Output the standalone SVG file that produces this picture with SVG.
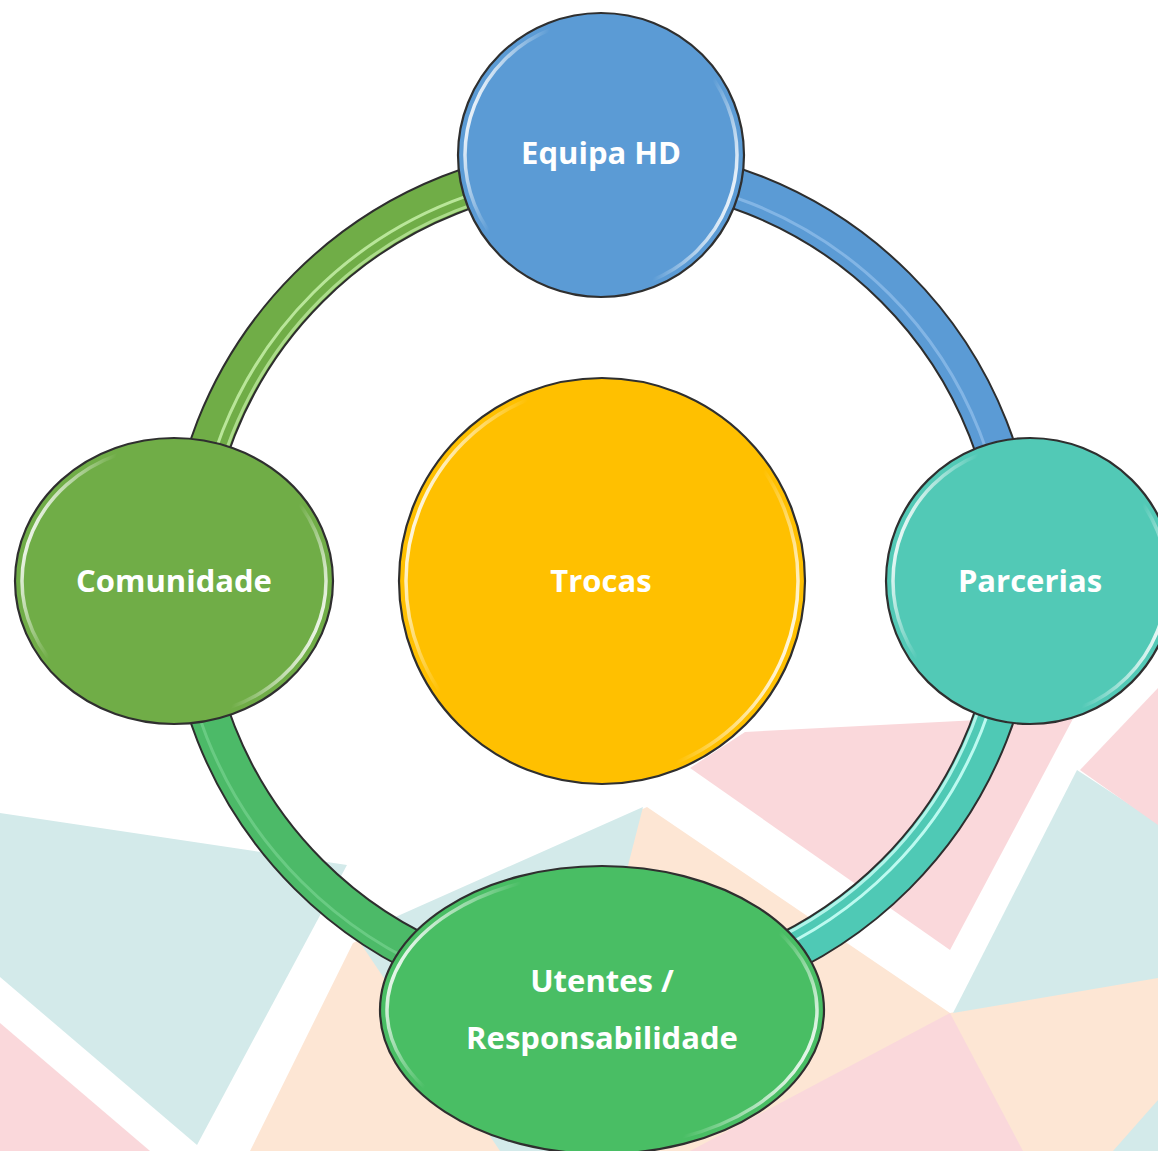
<svg xmlns="http://www.w3.org/2000/svg" width="1158" height="1151" viewBox="0 0 1158 1151">
<style>
.bl{fill:#d3eaea}.pk{fill:#fad8db}.pc{fill:#fde6d4}
.outline{fill:none;stroke:#2e2e2e;stroke-width:42}
.band{fill:none;stroke-width:38}
.stripe{fill:none;stroke-width:3}
.node-edge{stroke:#2f2f2f;stroke-width:2.2}
.rim{fill:none;stroke:url(#rimg);stroke-width:3.5}
.lbl{font-family:"Open Sans","DejaVu Sans",sans-serif;font-weight:bold;font-size:31px;fill:#ffffff;text-anchor:middle}
</style>
<defs>
<linearGradient id="rimg" x1="0" y1="0.35" x2="1" y2="0.65">
<stop offset="0" stop-color="#ffffff" stop-opacity="0.95"/>
<stop offset="0.08" stop-color="#ffffff" stop-opacity="0.55"/>
<stop offset="0.2" stop-color="#ffffff" stop-opacity="0"/>
<stop offset="0.8" stop-color="#ffffff" stop-opacity="0"/>
<stop offset="0.92" stop-color="#ffffff" stop-opacity="0.55"/>
<stop offset="1" stop-color="#ffffff" stop-opacity="0.95"/>
</linearGradient>
</defs>
<rect width="1158" height="1151" fill="#ffffff"/>
<g id="background">
<polygon class="pc" points="647,807 950,1013 1158,975 1158,1151 250,1151 353,943"/>
<polygon class="bl" points="643,807 355,935 500,1151 555,1151"/>
<polygon class="pk" points="950,1013 1023,1151 690,1151"/>
<polygon class="bl" points="1113,1151 1158,1100 1158,1151"/>
<polygon class="bl" points="1077,770 1158,823 1158,978 953,1013"/>
<polygon class="pk" points="1080,770 1158,688 1158,825"/>
<polygon class="pk" points="690,768 745,732 1075,715 950,950"/>
<polygon class="bl" points="0,813 347,865 197,1145 0,977"/>
<polygon class="pk" points="0,1023 150,1151 0,1151"/>
</g>
<g id="connectors">
<g id="arc-equipa-parcerias">
<path class="outline" d="M602,166 A415,415 0 0 1 1017,581"/>
<path class="band" stroke="#5b9bd5" d="M602,166 A415,415 0 0 1 1017,581"/>
<path class="stripe" stroke="#9cc6f0" stroke-opacity="0.6" d="M602,175 A406,406 0 0 1 1008,581"/>
</g>
<g id="arc-parcerias-utentes">
<path class="outline" d="M1017,581 A415,415 0 0 1 602,996"/>
<path class="band" stroke="#4fc9b5" d="M1017,581 A415,415 0 0 1 602,996"/>
<path class="stripe" stroke="#c8fff6" stroke-opacity="0.9" d="M1010,581 A408,408 0 0 1 602,989"/>
<path class="stripe" stroke="#c8fff6" stroke-opacity="0.8" d="M1000,581 A398,398 0 0 1 602,979"/>
</g>
<g id="arc-utentes-comunidade">
<path class="outline" d="M602,996 A415,415 0 0 1 187,581"/>
<path class="band" stroke="#4cba68" d="M602,996 A415,415 0 0 1 187,581"/>
<path class="stripe" stroke="#8fe0a4" stroke-opacity="0.45" d="M602,1006 A425,425 0 0 1 177,581"/>
</g>
<g id="arc-comunidade-equipa">
<path class="outline" d="M187,581 A415,415 0 0 1 602,166"/>
<path class="band" stroke="#70ad47" d="M187,581 A415,415 0 0 1 602,166"/>
<path class="stripe" stroke="#c6f0a8" stroke-opacity="0.85" d="M194,581 A408,408 0 0 1 602,173"/>
<path class="stripe" stroke="#c6f0a8" stroke-opacity="0.7" d="M204,581 A398,398 0 0 1 602,183"/>
</g>
</g>
<g id="node-trocas">
<ellipse cx="602" cy="581" rx="203" ry="203" fill="#ffc000" class="node-edge"/>
<ellipse cx="602" cy="581" rx="196" ry="196" class="rim"/>
<text class="lbl" x="601" y="592">Trocas</text>
</g>
<g id="node-equipa">
<ellipse cx="601" cy="155" rx="143" ry="142" fill="#5b9bd5" class="node-edge"/>
<ellipse cx="601" cy="155" rx="136" ry="135" class="rim"/>
<text class="lbl" x="601" y="164">Equipa HD</text>
</g>
<g id="node-comunidade">
<ellipse cx="174" cy="581" rx="159" ry="143" fill="#70ad47" class="node-edge"/>
<ellipse cx="174" cy="581" rx="152" ry="136" class="rim"/>
<text class="lbl" x="174" y="592">Comunidade</text>
</g>
<g id="node-parcerias">
<ellipse cx="1030" cy="581" rx="144" ry="143" fill="#52c9b6" class="node-edge"/>
<ellipse cx="1030" cy="581" rx="137" ry="136" class="rim"/>
<text class="lbl" x="1030" y="592">Parcerias</text>
</g>
<g id="node-utentes">
<ellipse cx="602" cy="1010" rx="222" ry="144" fill="#49be64" class="node-edge"/>
<ellipse cx="602" cy="1010" rx="215" ry="137" class="rim"/>
<text class="lbl" x="602" y="992">Utentes /</text>
<text class="lbl" x="602" y="1049">Responsabilidade</text>
</g>
</svg>
